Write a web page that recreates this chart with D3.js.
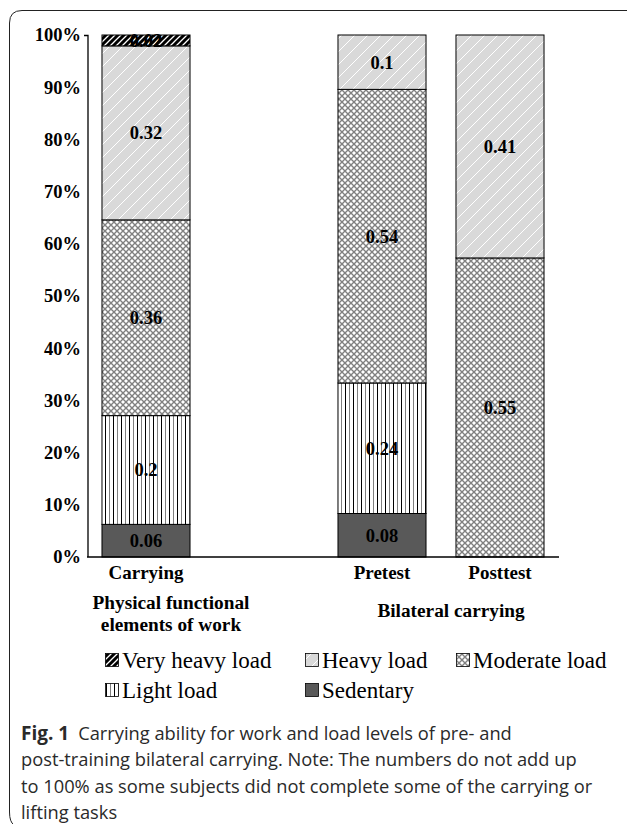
<!DOCTYPE html>
<html>
<head>
<meta charset="utf-8">
<script src="https://cdn.jsdelivr.net/npm/d3@7"></script>
<style>
  html, body { margin: 0; padding: 0; background: #fff; }
  svg { display: block; }
</style>
</head>
<body>
<svg id="chart" width="627" height="824"></svg>
<script>
// ---- data ----
const categories = ["Carrying", "_gap", "Pretest", "Posttest"];
const categoryLabels = ["Carrying", "", "Pretest", "Posttest"];
const seriesNames = ["Sedentary", "Light load", "Moderate load", "Heavy load", "Very heavy load"];
const sedentary = [0.06, 0, 0.08, 0];
const lightLoad = [0.2, 0, 0.24, 0];
const moderateLoad = [0.36, 0, 0.54, 0.55];
const heavyLoad = [0.32, 0, 0.1, 0.41];
const veryHeavyLoad = [0.02, 0, 0, 0];
const yTicks = [0, 0.1, 0.2, 0.3, 0.4, 0.5, 0.6, 0.7, 0.8, 0.9, 1.0];
const groupLabels = [
  { lines: ["Physical functional", "elements of work"], x: 171 },
  { lines: ["Bilateral carrying"], x: 451 }
];
const legendRows = [["Very heavy load", "Heavy load", "Moderate load"], ["Light load", "Sedentary"]];
const captionBold = "Fig. 1";
const captionLines = [
  "Carrying ability for work and load levels of pre- and",
  "post-training bilateral carrying. Note: The numbers do not add up",
  "to 100% as some subjects did not complete some of the carrying or",
  "lifting tasks"
];

const seriesValues = [sedentary, lightLoad, moderateLoad, heavyLoad, veryHeavyLoad];
const table = categories.map((c, i) => {
  const row = { cat: c };
  seriesNames.forEach((s, k) => row[s] = seriesValues[k][i]);
  return row;
});

const svg = d3.select("#chart");
const serif = "'Liberation Serif', 'Times New Roman', serif";

// ---- patterns ----
const defs = svg.append("defs");
let p = defs.append("pattern").attr("id", "p-vh").attr("patternUnits", "userSpaceOnUse")
  .attr("width", 6).attr("height", 6);
p.append("rect").attr("width", 6).attr("height", 6).attr("fill", "#000");
p.append("path").attr("d", "M-1,1 L1,-1 M0,6 L6,0 M5,7 L7,5").attr("stroke", "#fff").attr("stroke-width", 1.3);
p = defs.append("pattern").attr("id", "p-h").attr("patternUnits", "userSpaceOnUse")
  .attr("width", 13).attr("height", 13);
p.append("rect").attr("width", 13).attr("height", 13).attr("fill", "#d9d9d9");
p.append("path").attr("d", "M-1,1 L1,-1 M0,13 L13,0 M12,14 L14,12").attr("stroke", "#fff").attr("stroke-width", 1);
p = defs.append("pattern").attr("id", "p-m").attr("patternUnits", "userSpaceOnUse")
  .attr("width", 6).attr("height", 6);
p.append("rect").attr("width", 6).attr("height", 6).attr("fill", "#fff");
p.append("path").attr("d", "M0,0 L6,6 M6,0 L0,6").attr("stroke", "#808080").attr("stroke-width", 1.4);
p = defs.append("pattern").attr("id", "p-l").attr("patternUnits", "userSpaceOnUse")
  .attr("width", 8).attr("height", 8);
p.append("rect").attr("width", 8).attr("height", 8).attr("fill", "#fff");
p.append("rect").attr("x", 1).attr("width", 1).attr("height", 8).attr("fill", "#000");
p.append("rect").attr("x", 5).attr("width", 1).attr("height", 8).attr("fill", "#7f7f7f");

const fills = {
  "Sedentary": "#595959",
  "Light load": "url(#p-l)",
  "Moderate load": "url(#p-m)",
  "Heavy load": "url(#p-h)",
  "Very heavy load": "url(#p-vh)"
};

// ---- card border ----
svg.append("path")
  .attr("d", "M627,10.5 H22 Q9.5,10.5 9.5,23 V812 Q9.5,822 14,825")
  .attr("fill", "none").attr("stroke", "#222").attr("stroke-width", 1);

// ---- scales ----
const x = d3.scaleBand().domain(categories).range([87, 559]).paddingInner(0.254).paddingOuter(0.127);
const y = d3.scaleLinear().domain([0, 1]).range([557, 35]);

const stack = d3.stack().keys(seriesNames).offset(d3.stackOffsetExpand);
const stacked = stack(table);

// ---- bars ----
const layers = svg.append("g").selectAll("g").data(stacked).join("g")
  .attr("fill", d => fills[d.key]);
layers.selectAll("rect")
  .data(d => d.filter(s => (s[1] - s[0]) > 0 && !isNaN(s[1])))
  .join("rect")
  .attr("x", d => x(d.data.cat))
  .attr("width", x.bandwidth())
  .attr("y", d => y(d[1]))
  .attr("height", d => y(d[0]) - y(d[1]))
  .attr("stroke", "#000").attr("stroke-width", 1);

// ---- value labels ----
stacked.forEach(layer => {
  layer.forEach(s => {
    const raw = s.data[layer.key];
    if (!(s[1] - s[0] > 0) || isNaN(s[1])) return;
    svg.append("text")
      .attr("x", x(s.data.cat) + x.bandwidth() / 2)
      .attr("y", (y(s[0]) + y(s[1])) / 2)
      .attr("dy", "0.35em")
      .attr("text-anchor", "middle")
      .attr("font-family", serif).attr("font-weight", "bold").attr("font-size", 18.5)
      .attr("fill", "#000")
      .text(String(raw));
  });
});

// ---- y axis ----
const yAxis = d3.axisLeft(y).tickValues(yTicks).tickFormat(d3.format(".0%")).tickSize(0).tickPadding(7);
const ga = svg.append("g").attr("transform", "translate(88,0)").call(yAxis);
ga.select(".domain").attr("stroke", "#000").attr("stroke-width", 1.3).attr("d", "M-4,35.5 H0 V557");
ga.selectAll("text").attr("font-family", serif).attr("font-weight", "bold").attr("font-size", 18.5).attr("fill", "#000");

// ---- x axis ----
const xAxis = d3.axisBottom(x).tickSize(0).tickPadding(9).tickFormat((d, i) => categoryLabels[i]);
const gx = svg.append("g").attr("transform", "translate(0,557)").call(xAxis);
gx.select(".domain").attr("stroke", "#000").attr("stroke-width", 1.3).attr("d", "M87,0 H559");
gx.selectAll("text").attr("font-family", serif).attr("font-weight", "bold").attr("font-size", 19).attr("fill", "#000");

// ---- group labels ----
groupLabels.forEach(g => {
  const base = g.lines.length === 1 ? 617 : 609;
  g.lines.forEach((t, i) => {
    svg.append("text").attr("x", g.x).attr("y", base + i * 22)
      .attr("text-anchor", "middle")
      .attr("font-family", serif).attr("font-weight", "bold").attr("font-size", 19.3)
      .text(t);
  });
});

// ---- legend ----
const legendX = [105, 305, 456];
const legendY = [660, 690];
legendRows.forEach((row, r) => {
  row.forEach((name, c) => {
    const g = svg.append("g").attr("transform", `translate(${legendX[c]},${legendY[r]})`);
    g.append("rect").attr("x", 0.5).attr("y", -6.5).attr("width", 13).attr("height", 13)
      .attr("fill", fills[name]).attr("stroke", "#000").attr("stroke-width", 0.8);
    g.append("text").attr("x", 17).attr("y", 0).attr("dy", "0.35em")
      .attr("font-family", serif).attr("font-size", 23).attr("fill", "#000")
      .text(name);
  });
});

// ---- caption ----
const cap = svg.append("g").attr("font-family", "'Open Sans', 'Noto Sans', sans-serif").attr("font-size", 18.3).attr("fill", "#2a2a2a");
captionLines.forEach((line, i) => {
  const t = cap.append("text").attr("x", 21).attr("y", 740 + i * 26.3);
  if (i === 0) {
    t.append("tspan").attr("font-weight", "bold").attr("font-size", 19).text(captionBold);
    t.append("tspan").attr("dx", 9).text(line);
  } else {
    t.text(line);
  }
});
</script>
</body>
</html>
